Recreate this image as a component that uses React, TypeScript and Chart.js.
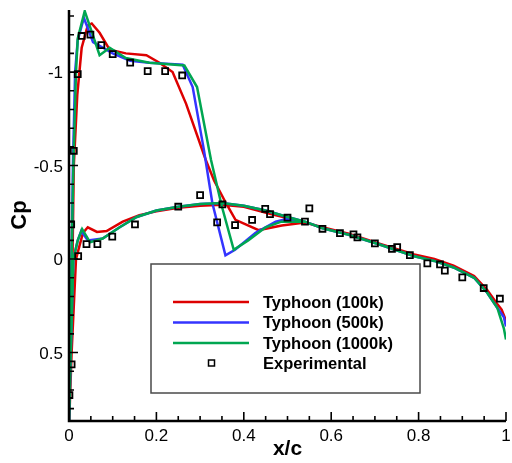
import React, { useEffect, useRef } from "react";
import { Chart, registerables } from "chart.js";
Chart.register(...registerables);

// ---- axis ticks ----
const X_MAJOR = [0, 0.2, 0.4, 0.6, 0.8, 1];
const X_LABELS = ["0", "0.2", "0.4", "0.6", "0.8", "1"];
const X_MINOR = [0.05, 0.1, 0.15, 0.25, 0.3, 0.35, 0.45, 0.5, 0.55, 0.65, 0.7, 0.75, 0.85, 0.9, 0.95];
const Y_MAJOR = [-1, -0.5, 0, 0.5];
const Y_LABELS = ["-1", "-0.5", "0", "0.5"];
const Y_MINOR = [-1.3, -1.2, -1.1, -0.9, -0.8, -0.7, -0.6, -0.4, -0.3, -0.2, -0.1, 0.1, 0.2, 0.3, 0.4, 0.6, 0.7, 0.8];
const X_MIN = 0, X_MAX = 1, Y_MIN = -1.332, Y_MAX = 0.866;

// ---- Typhoon (100k) ----
const RED_UP_X = [0, 0.004, 0.008, 0.011, 0.019, 0.029, 0.043, 0.052, 0.07, 0.093, 0.13, 0.177, 0.207, 0.237, 0.268, 0.313, 0.332, 0.359, 0.381, 0.434, 0.487, 0.54, 0.58, 0.64, 0.714, 0.79, 0.836, 0.88, 0.927, 0.957, 0.98, 0.99, 1.0];
const RED_UP_CP = [0.9, 0.5, 0.0, -0.5, -0.88, -1.13, -1.25, -1.26, -1.21, -1.12, -1.1, -1.09, -1.05, -1.0, -0.83, -0.53, -0.42, -0.3, -0.21, -0.155, -0.18, -0.195, -0.17, -0.135, -0.08, -0.025, 0.0, 0.035, 0.09, 0.165, 0.24, 0.27, 0.33];
const RED_LO_X = [0, 0.006, 0.016, 0.025, 0.032, 0.043, 0.064, 0.086, 0.123, 0.161, 0.2, 0.25, 0.3, 0.35, 0.4, 0.464, 0.5, 0.54, 0.58, 0.64, 0.714, 0.79, 0.836, 0.88, 0.927, 0.957, 0.98, 0.99, 1.0];
const RED_LO_CP = [0.9, 0.5, 0.0, -0.08, -0.14, -0.17, -0.145, -0.15, -0.2, -0.235, -0.255, -0.275, -0.285, -0.29, -0.28, -0.24, -0.22, -0.195, -0.17, -0.135, -0.08, -0.025, 0.0, 0.035, 0.09, 0.165, 0.24, 0.27, 0.33];

// ---- Typhoon (500k) ----
const BLUE_UP_X = [0, 0.003, 0.006, 0.009, 0.014, 0.02, 0.034, 0.055, 0.078, 0.1, 0.14, 0.184, 0.26, 0.283, 0.309, 0.328, 0.358, 0.38, 0.427, 0.473, 0.5, 0.54, 0.58, 0.64, 0.714, 0.79, 0.836, 0.88, 0.927, 0.957, 0.98, 0.995, 1.0];
const BLUE_UP_CP = [0.9, 0.5, 0.0, -0.5, -1.0, -1.17, -1.29, -1.16, -1.13, -1.1, -1.06, -1.05, -1.04, -0.92, -0.58, -0.3, -0.02, -0.05, -0.14, -0.2, -0.215, -0.2, -0.165, -0.13, -0.075, -0.015, 0.01, 0.045, 0.1, 0.18, 0.26, 0.31, 0.36];
const BLUE_LO_X = [0, 0.004, 0.01, 0.02, 0.028, 0.043, 0.077, 0.116, 0.155, 0.2, 0.25, 0.3, 0.35, 0.4, 0.45, 0.5, 0.54, 0.58, 0.64, 0.714, 0.79, 0.836, 0.88, 0.927, 0.957, 0.98, 0.995, 1.0];
const BLUE_LO_CP = [0.9, 0.5, 0.0, -0.1, -0.15, -0.1, -0.11, -0.17, -0.225, -0.26, -0.28, -0.295, -0.3, -0.285, -0.26, -0.225, -0.2, -0.165, -0.13, -0.075, -0.015, 0.01, 0.045, 0.1, 0.18, 0.26, 0.31, 0.36];

// ---- Typhoon (1000k) ----
const GREEN_UP_X = [0, 0.003, 0.006, 0.01, 0.016, 0.02, 0.036, 0.07, 0.093, 0.13, 0.184, 0.264, 0.293, 0.325, 0.35, 0.377, 0.41, 0.45, 0.486, 0.54, 0.58, 0.64, 0.714, 0.79, 0.836, 0.88, 0.927, 0.957, 0.98, 0.995, 1.0];
const GREEN_UP_CP = [0.9, 0.5, 0.0, -0.5, -1.0, -1.18, -1.326, -1.09, -1.13, -1.075, -1.05, -1.035, -0.92, -0.53, -0.28, -0.05, -0.1, -0.17, -0.2, -0.2, -0.165, -0.13, -0.075, -0.015, 0.01, 0.045, 0.1, 0.18, 0.26, 0.37, 0.43];
const GREEN_LO_X = [0, 0.004, 0.01, 0.02, 0.03, 0.048, 0.077, 0.116, 0.155, 0.2, 0.25, 0.3, 0.35, 0.4, 0.45, 0.5, 0.54, 0.58, 0.64, 0.714, 0.79, 0.836, 0.88, 0.927, 0.957, 0.98, 0.995, 1.0];
const GREEN_LO_CP = [0.9, 0.5, 0.0, -0.1, -0.16, -0.09, -0.11, -0.17, -0.225, -0.26, -0.28, -0.295, -0.3, -0.285, -0.26, -0.225, -0.2, -0.165, -0.13, -0.075, -0.015, 0.01, 0.045, 0.1, 0.18, 0.26, 0.37, 0.43];

// ---- Experimental ----
const EXP_X = [0.011, 0.02, 0.029, 0.049, 0.074, 0.1, 0.14, 0.18, 0.22, 0.259, 0.3, 0.339, 0.351, 0.38, 0.419, 0.449, 0.46, 0.5, 0.54, 0.55, 0.58, 0.62, 0.651, 0.66, 0.7, 0.739, 0.751, 0.78, 0.82, 0.849, 0.86, 0.9, 0.949, 0.986, 0.001, 0.006, 0.005, 0.021, 0.04, 0.065, 0.099, 0.151, 0.25];
const EXP_CP = [-0.579, -0.989, -1.193, -1.2, -1.144, -1.096, -1.05, -1.005, -1.005, -0.982, -0.342, -0.196, -0.292, -0.182, -0.209, -0.269, -0.24, -0.221, -0.2, -0.271, -0.162, -0.139, -0.132, -0.116, -0.084, -0.055, -0.064, -0.021, 0.023, 0.029, 0.062, 0.098, 0.155, 0.212, 0.727, 0.563, -0.185, -0.016, -0.08, -0.08, -0.12, -0.185, -0.28];

const SERIES = ["Typhoon (100k)", "Typhoon (500k)", "Typhoon (1000k)"];
const EXP_LABEL = "Experimental";
const COLORS = ["#dd0000", "#3434ff", "#00a651"];

function path(ux: number[], uy: number[], lx: number[], ly: number[]) {
  const pts: { x: number; y: number }[] = [];
  for (let i = ux.length - 1; i >= 0; i--) pts.push({ x: ux[i], y: uy[i] });
  for (let i = 0; i < lx.length; i++) pts.push({ x: lx[i], y: ly[i] });
  return pts;
}

const FONT = "'Liberation Sans', Arial, Helvetica, sans-serif";

const decor = {
  id: "decor",
  afterDatasetsDraw(chart: any) {
    const ctx = chart.ctx as CanvasRenderingContext2D;
    const { left, right, top, bottom } = chart.chartArea;
    const xs = chart.scales.x;
    const ys = chart.scales.y;
    ctx.save();
    ctx.strokeStyle = "#000";
    ctx.fillStyle = "#000";
    // axis lines
    ctx.lineWidth = 2.5;
    ctx.beginPath();
    ctx.moveTo(left, top);
    ctx.lineTo(left, bottom);
    ctx.lineTo(right, bottom);
    ctx.stroke();
    // ticks
    ctx.lineWidth = 1.6;
    ctx.beginPath();
    for (const v of Y_MAJOR) { const p = ys.getPixelForValue(v); ctx.moveTo(left, p); ctx.lineTo(left + 9, p); }
    for (const v of Y_MINOR) { const p = ys.getPixelForValue(v); ctx.moveTo(left, p); ctx.lineTo(left + 5, p); }
    for (const v of X_MAJOR) { const p = xs.getPixelForValue(v); ctx.moveTo(p, bottom); ctx.lineTo(p, bottom - 9); }
    for (const v of X_MINOR) { const p = xs.getPixelForValue(v); ctx.moveTo(p, bottom); ctx.lineTo(p, bottom - 5); }
    ctx.stroke();
    // tick labels
    ctx.font = `17px ${FONT}`;
    ctx.textBaseline = "alphabetic";
    ctx.textAlign = "right";
    Y_MAJOR.forEach((v, i) => ctx.fillText(Y_LABELS[i], left - 6, ys.getPixelForValue(v) + 6));
    ctx.textAlign = "center";
    X_MAJOR.forEach((v, i) => ctx.fillText(X_LABELS[i], xs.getPixelForValue(v), bottom + 20));
    // axis titles
    ctx.font = `bold 21px ${FONT}`;
    ctx.textAlign = "center";
    ctx.fillText("x/c", (left + right) / 2, bottom + 34);
    ctx.save();
    ctx.translate(26, 215);
    ctx.rotate(-Math.PI / 2);
    ctx.font = `bold 22px ${FONT}`;
    ctx.fillText("Cp", 0, 0);
    ctx.restore();
    // legend box
    const bx = 151, by = 264, bw = 269, bh = 129;
    ctx.fillStyle = "#fff";
    ctx.fillRect(bx, by, bw, bh);
    ctx.strokeStyle = "#4a4a4a";
    ctx.lineWidth = 1.5;
    ctx.strokeRect(bx, by, bw, bh);
    const rows = [302, 322.5, 343, 363];
    ctx.font = `bold 16.5px ${FONT}`;
    ctx.textAlign = "left";
    chart.data.datasets.forEach((ds: any, i: number) => {
      const y = rows[i];
      if (i < 3) {
        ctx.strokeStyle = ds.borderColor;
        ctx.lineWidth = 2.5;
        ctx.beginPath();
        ctx.moveTo(173, y);
        ctx.lineTo(249, y);
        ctx.stroke();
      } else {
        ctx.strokeStyle = "#000";
        ctx.lineWidth = 1.5;
        ctx.strokeRect(208.5, y - 3, 6, 6);
      }
      ctx.fillStyle = "#000";
      ctx.fillText(ds.label, 263, y + 5.5);
    });
    ctx.restore();
  },
};

export default function App() {
  const ref = useRef<HTMLCanvasElement>(null);
  useEffect(() => {
    const lineDs = (label: string, color: string, data: any[], order: number) => ({
      label,
      data,
      showLine: true,
      borderColor: color,
      backgroundColor: color,
      borderWidth: 2.5,
      pointRadius: 0,
      tension: 0,
      order,
    });
    const chart = new Chart(ref.current!, {
      type: "scatter",
      data: {
        datasets: [
          lineDs(SERIES[0], COLORS[0], path(RED_UP_X, RED_UP_CP, RED_LO_X, RED_LO_CP), 3),
          lineDs(SERIES[1], COLORS[1], path(BLUE_UP_X, BLUE_UP_CP, BLUE_LO_X, BLUE_LO_CP), 2),
          lineDs(SERIES[2], COLORS[2], path(GREEN_UP_X, GREEN_UP_CP, GREEN_LO_X, GREEN_LO_CP), 1),
          {
            label: EXP_LABEL,
            data: EXP_X.map((x, i) => ({ x, y: EXP_CP[i] })),
            showLine: false,
            pointStyle: "rect",
            pointRadius: 4.2,
            pointBorderWidth: 1.8,
            borderColor: "#000",
            backgroundColor: "rgba(0,0,0,0)",
            order: 0,
          } as any,
        ],
      },
      options: {
        responsive: false,
        animation: false,
        events: [],
        layout: { padding: { left: 69, right: 3, top: 10, bottom: 42 } },
        plugins: { legend: { display: false }, tooltip: { enabled: false } },
        scales: {
          x: { type: "linear", min: X_MIN, max: X_MAX, display: false },
          y: { type: "linear", min: Y_MIN, max: Y_MAX, reverse: true, display: false },
        },
      },
      plugins: [decor],
    });
    return () => chart.destroy();
  }, []);
  return (
    <div style={{ position: "absolute", left: 0, top: 0, width: 512, height: 463, background: "#fff" }}>
      <canvas ref={ref} width={512} height={463} style={{ display: "block" }} />
    </div>
  );
}
